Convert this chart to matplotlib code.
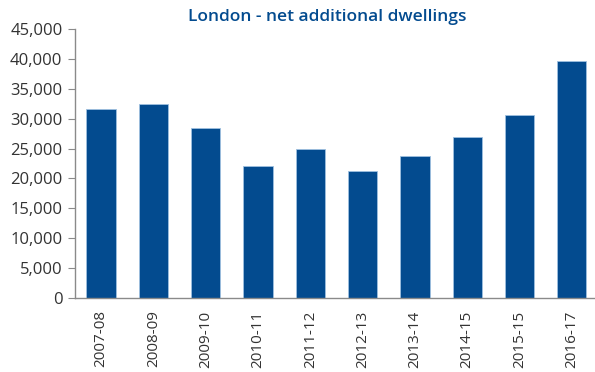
import matplotlib.pyplot as plt
from matplotlib.ticker import FuncFormatter

years = ['2007-08', '2008-09', '2009-10', '2010-11', '2011-12',
         '2012-13', '2013-14', '2014-15', '2015-15', '2016-17']
dwellings = [31700, 32450, 28500, 22000, 25000,
             21250, 23800, 27000, 30550, 39700]

blue = '#034b8f'

plt.rcParams['font.family'] = ['Open Sans', 'DejaVu Sans']

fig = plt.figure(figsize=(5.95, 3.72), dpi=100)
ax = fig.add_axes([0.126, 0.199, 0.879, 0.723])

ax.bar(range(len(years)), dwellings, width=0.56, color=blue,
       edgecolor='#9fc0e0', linewidth=0.6)

ax.set_xlim(-0.5, len(years) - 0.5)
ax.set_ylim(0, 45000)
ax.set_yticks(range(0, 45001, 5000))
ax.yaxis.set_major_formatter(FuncFormatter(lambda v, p: f'{int(v):,}'))
ax.set_xticks(range(len(years)))
ax.set_xticklabels(years, rotation=90)

for s in ['top', 'right']:
    ax.spines[s].set_visible(False)
for s in ['left', 'bottom']:
    ax.spines[s].set_color('#8a8a8a')
    ax.spines[s].set_linewidth(1)

ax.tick_params(axis='y', length=5, color='#8a8a8a', labelsize=12,
               labelcolor='#333333', pad=4)
ax.tick_params(axis='x', length=0, labelsize=11, labelcolor='#333333', pad=9)

fig.text(0.55, 0.953, 'London - net additional dwellings', color=blue,
         fontsize=12.5, fontweight='semibold', ha='center', va='center')

fig.savefig('out.png', dpi=100)
